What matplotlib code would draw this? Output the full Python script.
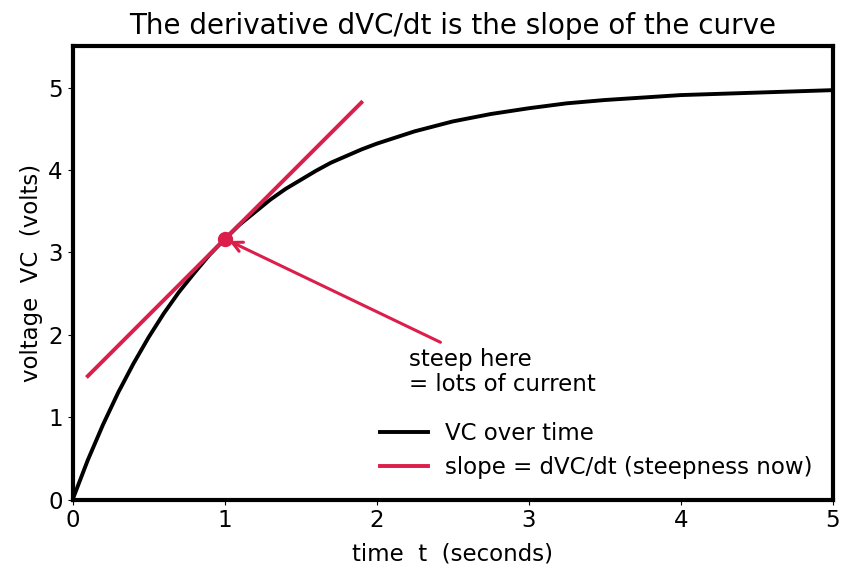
import matplotlib
matplotlib.use("Agg")
import matplotlib.pyplot as plt

# capacitor voltage
t_vals = [0.0, 0.1, 0.2, 0.3, 0.4, 0.5, 0.6, 0.7, 0.8, 0.9, 1.0,
          1.1, 1.2, 1.3, 1.4, 1.5, 1.6, 1.7, 1.8, 1.9, 2.0,
          2.25, 2.5, 2.75, 3.0, 3.25, 3.5, 3.75, 4.0, 4.5, 5.0]
vc_vals = [0.0, 0.48, 0.91, 1.30, 1.65, 1.97, 2.26, 2.52, 2.75, 2.97, 3.16,
           3.34, 3.49, 3.64, 3.77, 3.88, 3.99, 4.09, 4.17, 4.25, 4.32,
           4.47, 4.59, 4.68, 4.75, 4.81, 4.85, 4.88, 4.91, 4.94, 4.97]

# tangent segment and the touch point
tan_t = [0.1, 1.9]
tan_v = [1.50, 4.82]
pt_t, pt_v = 1.0, 3.16

RED = "#dc1e4a"
FS = 16.5

fig, ax = plt.subplots(figsize=(8.54, 5.81), dpi=100)
ax.plot(t_vals, vc_vals, color="black", lw=2.8, label="VC over time")
ax.plot(tan_t, tan_v, color=RED, lw=2.8, label="slope = dVC/dt (steepness now)")
ax.plot(pt_t, pt_v, "o", color=RED, ms=10, zorder=5)

ax.annotate("", xy=(1.03, 3.14), xytext=(2.42, 1.91),
            arrowprops=dict(arrowstyle="->", color=RED, lw=2.2,
                            mutation_scale=18, shrinkA=0, shrinkB=0))
ax.text(2.21, 1.84, "steep here\n= lots of current", fontsize=FS,
        va="top", ha="left", linespacing=1.1)

ax.set_xlim(0, 5)
ax.set_ylim(0, 5.5)
ax.set_yticks([0, 1, 2, 3, 4, 5])
ax.set_xlabel("time  t  (seconds)", fontsize=FS, labelpad=7)
ax.set_ylabel("voltage  VC  (volts)", fontsize=FS)
ax.set_title("The derivative dVC/dt is the slope of the curve", fontsize=20, pad=9)
ax.tick_params(labelsize=FS)
for s in ax.spines.values():
    s.set_linewidth(3)

ax.legend(loc="lower right", frameon=False, fontsize=FS, handlelength=2.1,
          handletextpad=0.7)

fig.subplots_adjust(left=0.085, right=0.975, top=0.92, bottom=0.14)
fig.savefig("out.png", dpi=100)
